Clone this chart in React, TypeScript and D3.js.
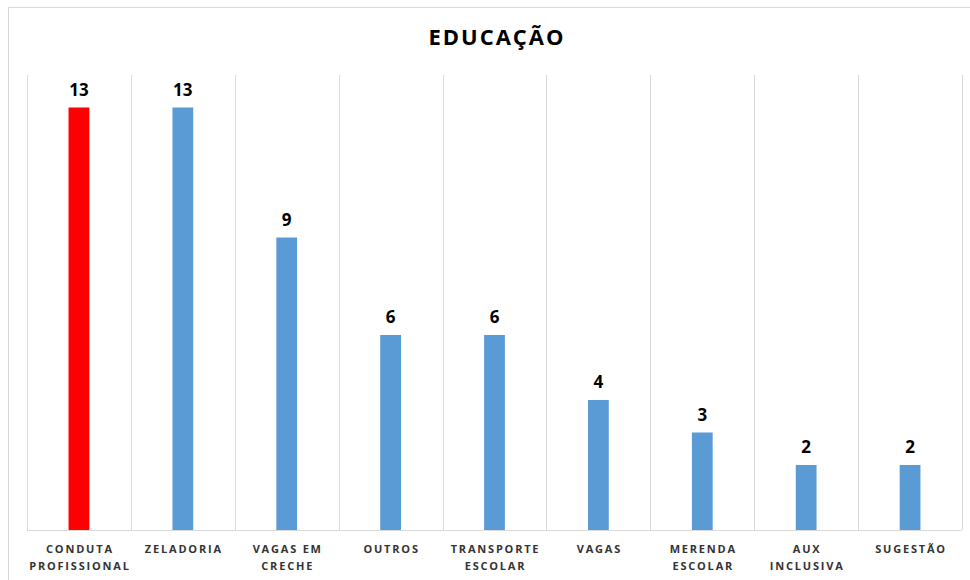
import React from "react";
import * as d3 from "d3";

const categories: string[][] = [
  ["CONDUTA", "PROFISSIONAL"],
  ["ZELADORIA"],
  ["VAGAS EM", "CRECHE"],
  ["OUTROS"],
  ["TRANSPORTE", "ESCOLAR"],
  ["VAGAS"],
  ["MERENDA", "ESCOLAR"],
  ["AUX", "INCLUSIVA"],
  ["SUGESTÃO"],
];
const values: number[] = [13, 13, 9, 6, 6, 4, 3, 2, 2];
const highlight: boolean[] = [true, false, false, false, false, false, false, false, false];
const title = "EDUCAÇÃO";

export default function App() {
  const W = 970, H = 580;
  const left = 27, right = 962, top = 75, bottom = 530;
  const keys = categories.map((_, i) => String(i));
  const x = d3.scaleBand<string>().domain(keys).range([left, right]).paddingInner(0).paddingOuter(0);
  const y = d3.scaleLinear().domain([0, 14]).range([bottom, top]);
  const bw = x.bandwidth() * 0.2;
  const font = "'Open Sans', 'DejaVu Sans', sans-serif";
  const gridX = d3.range(categories.length + 1).map((i) => left + i * x.bandwidth());

  return (
    <svg width={W} height={H} style={{ position: "absolute", left: 0, top: 0, background: "#fff" }}>
      <rect x={8.5} y={7.5} width={W} height={H} fill="#fff" stroke="#d9d9d9" strokeWidth={1} />
      <text x={497} y={45} textAnchor="middle" fontFamily={font} fontWeight="bold" fontSize={22} letterSpacing={2} fill="#000">
        {title}
      </text>
      {gridX.map((gx, i) => (
        <line key={i} x1={Math.round(gx) + 0.5} x2={Math.round(gx) + 0.5} y1={top} y2={bottom} stroke="#d9d9d9" strokeWidth={1} />
      ))}
      <line x1={left} x2={right} y1={bottom + 0.5} y2={bottom + 0.5} stroke="#d9d9d9" strokeWidth={1} />
      {values.map((v, i) => {
        const cx = (x(String(i)) as number) + x.bandwidth() / 2;
        return (
          <g key={i}>
            <rect x={cx - bw / 2} y={y(v)} width={bw} height={bottom - y(v)} fill={highlight[i] ? "#ff0000" : "#5b9bd5"} />
            <text x={cx} y={y(v) - 12} textAnchor="middle" fontFamily={font} fontWeight="bold" fontSize={17} fill="#000">
              {v}
            </text>
            {categories[i].map((line, j) => (
              <text key={j} x={cx + 1} y={553 + j * 17} textAnchor="middle" fontFamily={font} fontWeight="bold" fontSize={11} letterSpacing={1.8} fill="#333">
                {line}
              </text>
            ))}
          </g>
        );
      })}
    </svg>
  );
}
